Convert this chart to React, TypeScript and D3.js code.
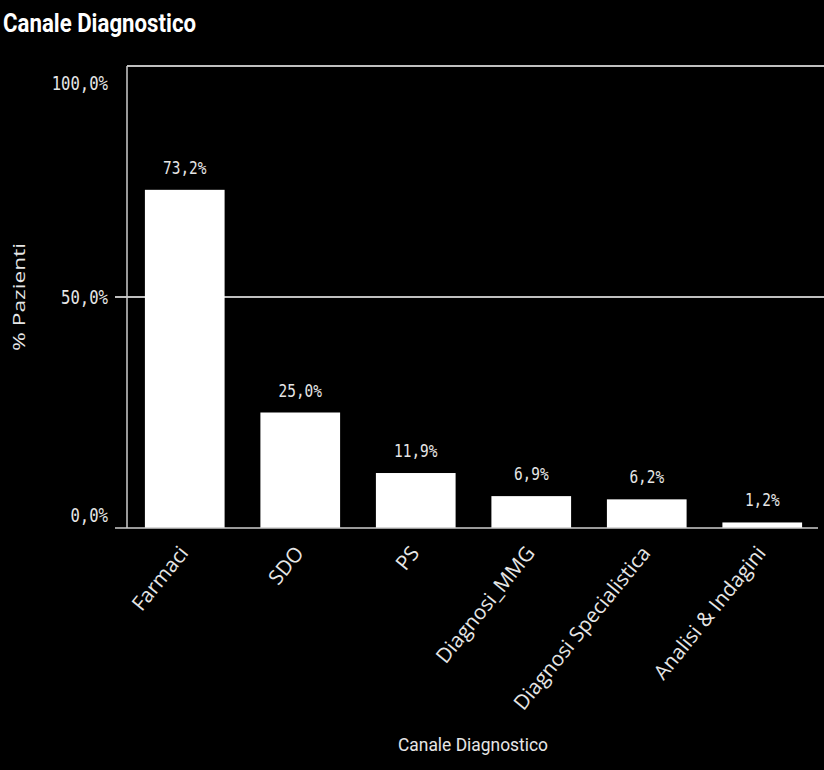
import React, { useEffect } from "react";
import * as d3 from "d3";

const categories = ["Farmaci", "SDO", "PS", "Diagnosi_MMG", "Diagnosi Specialistica", "Analisi & Indagini"];
const values = [73.2, 25.0, 11.9, 6.9, 6.2, 1.2];
const yTicks = [0, 50, 100];
const chartTitle = "Canale Diagnostico";
const xTitle = "Canale Diagnostico";
const yTitle = "% Pazienti";

const W = 824;
const H = 770;
const left = 127;
const right = 820;
const top = 66;
const bottom = 528;

const fmt = (v: number) => v.toFixed(1).replace(".", ",") + "%";
const mono = "'DejaVu Sans Mono', monospace";
const sans = "'Open Sans', 'DejaVu Sans', sans-serif";

export default function App() {
  useEffect(() => {
    document.body.style.margin = "0";
    document.body.style.background = "#000";
  }, []);

  const x = d3.scaleBand<string>().domain(categories).range([left, right]).paddingInner(0.31).paddingOuter(0.155);
  const y = d3.scaleLinear().domain([0, 100]).range([bottom, top]);

  return (
    <svg width={W} height={H} style={{ display: "block", position: "absolute", left: 0, top: 0 }}>
      <rect x={0} y={0} width={W} height={H} fill="#000" />
      <text x={3} y={32} fill="#fff" fontFamily="Roboto, sans-serif" fontWeight={700} fontSize={25}
        textLength={193} lengthAdjust="spacingAndGlyphs">{chartTitle}</text>

      {/* gridlines */}
      {yTicks.filter((t) => t > 0).map((t) => (
        <line key={"g" + t} x1={t === 100 ? left : left - 12} x2={W} y1={y(t)} y2={y(t)} stroke="#fff" strokeWidth={1.5} />
      ))}
      {/* y axis line */}
      <line x1={left} x2={left} y1={top} y2={bottom} stroke="#ccc" strokeWidth={1.5} />
      {/* bars */}
      {categories.map((c, i) => (
        <rect key={c} x={x(c)} y={y(values[i])} width={x.bandwidth()} height={y(0) - y(values[i])} fill="#fff" />
      ))}
      {/* x axis line */}
      <line x1={left - 12} x2={818} y1={y(0)} y2={y(0)} stroke="#ccc" strokeWidth={1.5} />

      {/* y tick labels */}
      {yTicks.map((t, i) => {
        const off = i === 0 ? -13 : i === yTicks.length - 1 ? 17 : 0;
        return (
          <text key={"t" + t} transform={`translate(108,${y(t) + off}) scale(0.8,1)`} textAnchor="end" dy="0.36em"
            fill="#e6e6e6" fontFamily={mono} fontSize={19.5}>{fmt(t)}</text>
        );
      })}

      {/* value labels */}
      {categories.map((c, i) => (
        <text key={"v" + c} transform={`translate(${x(c)! + x.bandwidth() / 2},${y(values[i]) - 16}) scale(0.78,1)`}
          textAnchor="middle" fill="#e6e6e6" fontFamily={mono} fontSize={18.5}>{fmt(values[i])}</text>
      ))}

      {/* x category labels */}
      {categories.map((c) => (
        <text key={"x" + c} transform={`translate(${x(c)! + x.bandwidth() / 2 - 1},${549}) rotate(-51)`}
          textAnchor="end" dy="0.35em" fill="#e6e6e6" fontFamily={sans} fontSize={20.5}>{c}</text>
      ))}

      {/* axis titles */}
      <text x={473} y={751} textAnchor="middle" fill="#e6e6e6" fontFamily="Roboto, sans-serif" fontSize={18}
        textLength={150} lengthAdjust="spacingAndGlyphs">{xTitle}</text>
      <text transform={`translate(25,${(top + bottom) / 2}) rotate(-90)`} textAnchor="middle" fill="#e6e6e6"
        fontFamily={sans} fontSize={17} textLength={108} lengthAdjust="spacingAndGlyphs">{yTitle}</text>
    </svg>
  );
}
